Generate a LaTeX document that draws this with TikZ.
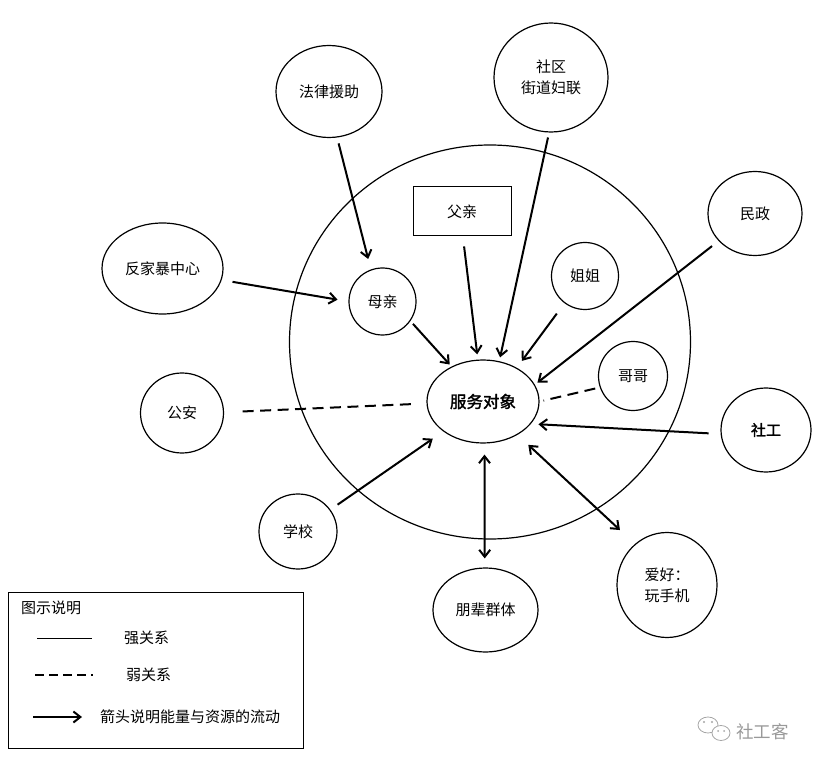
\documentclass[tikz,border=0pt]{standalone}
\usepackage{fontspec}
\setmainfont{Noto Sans CJK SC}
\newfontfamily\boldcjk[FakeBold=1.8]{Noto Sans CJK SC}
\usetikzlibrary{shapes.geometric,arrows.meta}
\newcommand\fsn{\fontsize{15}{21}\selectfont}
\newcommand\fsb{\fontsize{16.5}{20}\boldcjk}
\tikzset{
  ent/.style={draw, ellipse, line width=1.2pt, inner sep=0pt, font=\fsn, align=center},
  rel/.style={line width=2pt},
  arr/.style={rel, -{Straight Barb[length=7pt,width=11pt]}},
  darr/.style={rel, {Straight Barb[length=7pt,width=11pt]}-{Straight Barb[length=7pt,width=11pt]}},
  weak/.style={rel, dash pattern=on 11pt off 6.5pt},
  lgtext/.style={anchor=west, inner sep=0pt, font=\fsn},
}
\begin{document}
\begin{tikzpicture}[x=1pt,y=-1pt]
\useasboundingbox (0,0) rectangle (822,767);
\fill[white] (0,0) rectangle (822,767);
% big circle
\node[draw, ellipse, line width=1.2pt, minimum width=401, minimum height=394] (big) at (490,342) {};
% central
\node[ent, minimum width=112, minimum height=83, font=\fsb] (fw) at (483,401.5) {服务对象};
% inner members
\node[draw, rectangle, line width=1pt, minimum width=98, minimum height=49, inner sep=0pt, font=\fsn] (fq) at (462,211.5) {父亲};
\node[ent, minimum width=67, minimum height=67] (mq) at (382.5,301.5) {母亲};
\node[ent, minimum width=67, minimum height=67] (jj) at (585,276) {姐姐};
\node[ent, minimum width=69, minimum height=69] (gg) at (633,376) {哥哥};
% outer
\node[ent, minimum width=106, minimum height=92] (fl) at (329,91.5) {法律援助};
\node[ent, minimum width=114, minimum height=109] (sq) at (551,77.5) {社区\\街道妇联};
\node[ent, minimum width=94, minimum height=84] (mz) at (755,213.5) {民政};
\node[ent, minimum width=121, minimum height=91] (fj) at (162.5,268.5) {反家暴中心};
\node[ent, minimum width=83, minimum height=80] (ga) at (182,413) {公安};
\node[ent, minimum width=90, minimum height=84] (sg) at (766,430) {\fontsize{15}{18}\boldcjk 社工};
\node[ent, minimum width=78, minimum height=75] (xx) at (298,531.5) {学校};
\node[ent, minimum width=105, minimum height=84] (pb) at (485.5,610) {朋辈群体};
\node[ent, minimum width=100, minimum height=105, align=left] (ah) at (667,585) {爱好：\\玩手机};
% connectors
\draw[arr, shorten <=6pt, shorten >=10.8pt] (fl.-80) -- (mq.110.5);
\draw[arr, shorten <=11pt, shorten >=11pt] (fj.-11) -- (mq.180);
\draw[arr, shorten <=3.8pt, shorten >=2.7pt] (mq.-35.2) -- (fw.132.1);
\draw[arr, shorten <=10pt, shorten >=5.3pt] (fq.-88.3) -- (fw.97.4);
\draw[arr, shorten <=5pt, shorten >=3.9pt] (sq.-92.9) -- (fw.68.7);
\draw[arr, shorten <=12.9pt, shorten >=8.5pt] (jj.-127.1) -- (fw.45.4);
\draw[arr, shorten <=8.3pt, shorten >=3.3pt] (mz.-143.8) -- (fw.18.9);
\draw[weak, shorten <=4.7pt, shorten >=4pt] (gg.199.4) -- (fw.0.5);
\draw[weak, shorten <=18.5pt, shorten >=11pt] (ga.1) -- (fw.182.1);
\draw[arr, shorten <=12pt, shorten >=7.5pt] (sg.185) -- (fw.-25.3);
\draw[arr, shorten <=8.7pt, shorten >=12.7pt] (xx.34.2) -- (fw.217.4);
\draw[darr, shorten <=11pt, shorten >=9pt] (fw.-88.9) -- (pb.91.7);
\draw[darr, shorten <=14.7pt, shorten >=20.4pt] (fw.-44.7) -- (ah.128.8);
% legend
\node[draw, rectangle, line width=1pt, minimum width=295, minimum height=156, anchor=north west, inner sep=0pt] (lg) at (8,592) {};
\node[lgtext] (lg0) at (21,608) {图示说明};
\draw[line width=1pt] (37,638) -- (92,638);
\node[lgtext] (lg1) at (124,638) {强关系};
\draw[line width=2.4pt, dash pattern=on 9pt off 5pt] (35,675) -- (93,675);
\node[lgtext] (lg2) at (126,675) {弱关系};
\draw[arr] (33,717) -- (82,717);
\node[lgtext] (lg3) at (100,717) {箭头说明能量与资源的流动};
% watermark
\begin{scope}[draw=gray!70, line width=0.8pt]
\draw (708,725) ellipse [x radius=10, y radius=8];
\fill[white] (721,733) ellipse [x radius=9, y radius=7.5];
\draw (721,733) ellipse [x radius=9, y radius=7.5];
\fill[gray!70] (704,722) circle (1.1) (712,722) circle (1.1) (718,731) circle (1) (724,731) circle (1);
\end{scope}
\node[anchor=west, inner sep=0pt, text=gray!80, font=\fontsize{17.5}{20}\selectfont] (wm) at (736,732) {社工客};
\end{tikzpicture}
\end{document}
